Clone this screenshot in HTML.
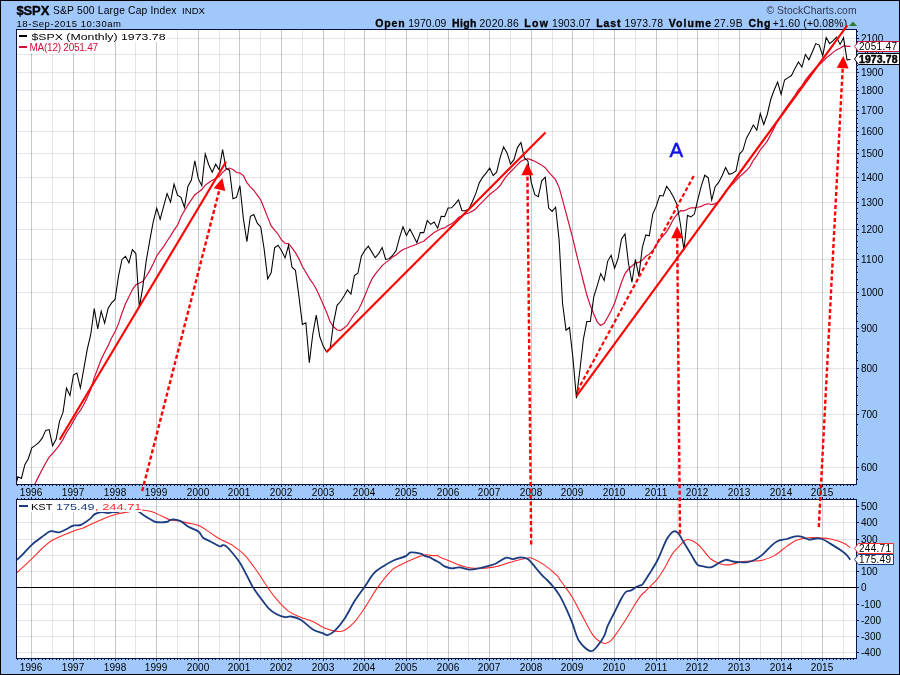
<!DOCTYPE html>
<html><head><meta charset="utf-8"><style>
html,body{margin:0;padding:0;background:#000;}
body{width:900px;height:675px;overflow:hidden;}
svg{display:block;font-family:"Liberation Sans",sans-serif;will-change:transform;}
</style></head><body>
<svg width="900" height="675" viewBox="0 0 900 675">
<rect x="0" y="0" width="900" height="675" fill="#000"/>
<rect x="1" y="1" width="898" height="673" fill="#A0C8FA"/>
<rect x="16" y="29" width="841" height="456" fill="#0A1440"/>
<rect x="17" y="30" width="839" height="454" fill="#fff"/>
<rect x="16" y="499" width="841" height="160" fill="#0A1440"/>
<rect x="17" y="500" width="839" height="158" fill="#fff"/>
<path d="M31.5 30V484M73.5 30V484M115.5 30V484M156.5 30V484M198.5 30V484M239.5 30V484M281.5 30V484M323.5 30V484M364.5 30V484M406.5 30V484M448.5 30V484M489.5 30V484M531.5 30V484M572.5 30V484M614.5 30V484M656.5 30V484M697.5 30V484M739.5 30V484M781.5 30V484M822.5 30V484" stroke="rgba(0,0,0,0.21)" stroke-width="1" fill="none"/>
<path d="M52.5 30V484M94.5 30V484M135.5 30V484M177.5 30V484M219.5 30V484M260.5 30V484M302.5 30V484M344.5 30V484M385.5 30V484M427.5 30V484M468.5 30V484M510.5 30V484M552.5 30V484M593.5 30V484M635.5 30V484M677.5 30V484M718.5 30V484M760.5 30V484M801.5 30V484M843.5 30V484" stroke="rgba(0,0,0,0.1)" stroke-width="1" fill="none"/>
<path d="M31.5 500V658M73.5 500V658M115.5 500V658M156.5 500V658M198.5 500V658M239.5 500V658M281.5 500V658M323.5 500V658M364.5 500V658M406.5 500V658M448.5 500V658M489.5 500V658M531.5 500V658M572.5 500V658M614.5 500V658M656.5 500V658M697.5 500V658M739.5 500V658M781.5 500V658M822.5 500V658" stroke="rgba(0,0,0,0.21)" stroke-width="1" fill="none"/>
<path d="M52.5 500V658M94.5 500V658M135.5 500V658M177.5 500V658M219.5 500V658M260.5 500V658M302.5 500V658M344.5 500V658M385.5 500V658M427.5 500V658M468.5 500V658M510.5 500V658M552.5 500V658M593.5 500V658M635.5 500V658M677.5 500V658M718.5 500V658M760.5 500V658M801.5 500V658M843.5 500V658" stroke="rgba(0,0,0,0.1)" stroke-width="1" fill="none"/>
<path d="M17 38.5H856M17 54.5H856M17 72.5H856M17 90.5H856M17 110.5H856M17 131.5H856M17 153.5H856M17 177.5H856M17 202.5H856M17 229.5H856M17 259.5H856M17 292.5H856M17 328.5H856M17 368.5H856M17 414.5H856M17 467.5H856" stroke="rgba(0,0,0,0.1)" stroke-width="1" fill="none"/>
<path d="M17 506.5H856M17 522.5H856M17 539.5H856M17 555.5H856M17 571.5H856M17 604.5H856M17 620.5H856M17 636.5H856M17 652.5H856" stroke="rgba(0,0,0,0.1)" stroke-width="1" fill="none"/>
<defs>
<clipPath id="cp"><rect x="17" y="30" width="839" height="454"/></clipPath>
<clipPath id="ck"><rect x="17" y="500" width="839" height="158"/></clipPath>
</defs>
<g clip-path="url(#cp)">
<path d="M14.46 528.92 L17.92 522.06 L21.39 516.02 L24.86 507.81 L28.33 499.53 L31.80 490.98 L35.27 483.27 L38.74 476.14 L42.21 469.40 L45.68 462.97 L49.14 457.11 L52.61 453.53 L56.08 449.44 L59.55 444.82 L63.02 439.36 L66.49 432.77 L69.96 427.45 L73.43 421.15 L76.90 414.96 L80.37 410.43 L83.83 404.55 L87.30 397.53 L90.77 389.31 L94.24 377.61 L97.71 368.67 L101.18 359.52 L104.65 352.33 L108.12 345.65 L111.59 338.07 L115.06 331.80 L118.52 323.62 L121.99 313.01 L125.46 303.72 L128.93 296.64 L132.40 289.53 L135.87 284.85 L139.34 283.24 L142.81 281.31 L146.28 276.26 L149.75 270.63 L153.22 263.77 L156.68 256.00 L160.15 251.18 L163.62 246.54 L167.09 241.00 L170.56 235.86 L174.03 230.12 L177.50 225.21 L180.97 216.79 L184.44 210.76 L187.91 204.86 L191.37 199.92 L194.84 194.73 L198.31 192.27 L201.78 189.55 L205.25 185.09 L208.72 182.65 L212.19 180.20 L215.66 178.52 L219.13 176.43 L222.59 172.44 L226.06 169.36 L229.53 168.04 L233.00 169.51 L236.47 172.50 L239.94 173.07 L243.41 175.63 L246.88 182.57 L250.35 186.80 L253.82 190.27 L257.28 195.19 L260.75 199.94 L264.22 208.42 L267.69 217.37 L271.16 225.95 L274.63 230.11 L278.10 234.23 L281.57 239.96 L285.04 243.24 L288.51 243.56 L291.98 247.86 L295.44 252.62 L298.91 258.64 L302.38 266.47 L305.85 272.28 L309.32 278.41 L312.79 283.21 L316.26 288.91 L319.73 296.57 L323.20 304.60 L326.67 312.54 L330.13 321.72 L333.60 326.74 L337.07 330.02 L340.54 330.51 L344.01 328.01 L347.48 325.11 L350.95 319.48 L354.42 314.42 L357.89 310.73 L361.36 303.81 L364.82 295.78 L368.29 287.13 L371.76 279.40 L375.23 274.21 L378.70 269.98 L382.17 265.56 L385.64 262.63 L389.11 260.12 L392.58 257.06 L396.05 255.01 L399.51 252.07 L402.98 249.54 L406.45 248.28 L409.92 246.81 L413.39 245.45 L416.86 244.22 L420.33 242.47 L423.80 241.23 L427.27 237.98 L430.74 235.17 L434.20 232.42 L437.67 230.58 L441.14 228.79 L444.61 227.92 L448.08 225.59 L451.55 223.79 L455.02 221.13 L458.49 217.58 L461.96 215.78 L465.43 213.99 L468.89 213.02 L472.36 211.14 L475.83 208.74 L479.30 204.94 L482.77 201.61 L486.24 197.90 L489.71 194.49 L493.18 191.80 L496.65 189.13 L500.12 185.52 L503.58 180.11 L507.05 175.35 L510.52 171.75 L513.99 168.35 L517.46 164.57 L520.93 161.22 L524.40 159.65 L527.87 158.69 L531.34 159.84 L534.80 161.32 L538.27 163.24 L541.74 165.14 L545.21 167.71 L548.68 172.17 L552.15 175.97 L555.62 179.88 L559.09 187.37 L562.56 199.79 L566.03 212.78 L569.49 225.82 L572.96 239.06 L576.43 253.93 L579.90 267.59 L583.37 281.48 L586.84 295.06 L590.31 305.59 L593.78 314.00 L597.25 322.06 L600.72 325.48 L604.18 323.37 L607.65 317.20 L611.12 310.75 L614.59 303.37 L618.06 292.65 L621.53 282.19 L625.00 273.60 L628.47 269.03 L631.94 266.08 L635.41 263.07 L638.87 262.32 L642.34 260.13 L645.81 256.33 L649.28 254.15 L652.75 250.53 L656.22 245.21 L659.69 239.72 L663.16 235.91 L666.63 231.65 L670.10 225.59 L673.56 218.85 L677.03 214.48 L680.50 210.65 L683.97 210.87 L687.44 209.29 L690.91 207.81 L694.38 207.81 L697.85 207.22 L701.32 206.37 L704.79 204.54 L708.25 203.78 L711.72 204.55 L715.19 203.63 L718.66 201.72 L722.13 197.63 L725.60 191.00 L729.07 187.65 L732.54 184.11 L736.01 180.61 L739.48 176.81 L742.94 173.79 L746.41 170.56 L749.88 166.58 L753.35 160.30 L756.82 155.60 L760.29 149.78 L763.76 145.54 L767.23 141.09 L770.70 134.82 L774.17 127.87 L777.63 120.49 L781.10 115.61 L784.57 109.78 L788.04 104.74 L791.51 100.04 L794.98 95.31 L798.45 89.67 L801.92 85.82 L805.39 80.08 L808.86 75.64 L812.32 71.70 L815.79 67.79 L819.26 64.69 L822.73 61.58 L826.20 58.03 L829.67 55.23 L833.14 52.36 L836.61 49.76 L840.08 48.32 L843.55 45.90 L847.01 46.33 L850.48 46.31" stroke="#D0103A" stroke-width="1.2" fill="none"/>
<path d="M14.46 490.25 L17.92 476.77 L21.39 478.48 L24.86 464.69 L28.33 458.76 L31.80 447.76 L35.27 445.39 L38.74 442.69 L42.21 438.12 L45.68 430.37 L49.14 429.60 L52.61 445.65 L56.08 439.26 L59.55 421.18 L63.02 412.33 L66.49 388.06 L69.96 395.51 L73.43 375.11 L76.90 373.09 L80.37 388.01 L83.83 368.56 L87.30 349.04 L90.77 334.46 L94.24 308.67 L97.71 328.96 L101.18 311.20 L104.65 323.23 L108.12 308.28 L111.59 302.93 L115.06 299.46 L118.52 276.13 L121.99 259.42 L125.46 256.32 L128.93 262.84 L132.40 249.58 L135.87 253.58 L139.34 307.60 L142.81 286.85 L146.28 260.38 L149.75 240.69 L153.22 221.89 L156.68 208.11 L160.15 219.36 L163.62 206.31 L167.09 193.54 L170.56 202.21 L174.03 184.04 L177.50 195.21 L180.97 197.36 L184.44 207.29 L187.91 186.49 L191.37 180.02 L194.84 160.74 L198.31 178.65 L201.78 185.62 L205.25 153.97 L208.72 164.69 L212.19 172.29 L215.66 164.18 L219.13 169.83 L222.59 149.63 L226.06 168.47 L229.53 170.17 L233.00 198.78 L236.47 197.39 L239.94 185.72 L243.41 218.91 L246.88 241.66 L250.35 216.29 L253.82 214.55 L257.28 223.23 L260.75 226.94 L264.22 249.66 L267.69 278.88 L271.16 272.73 L274.63 247.89 L278.10 245.30 L281.57 250.68 L285.04 257.87 L288.51 245.50 L291.98 267.23 L295.44 270.36 L298.91 296.14 L302.38 324.36 L305.85 322.69 L309.32 362.64 L312.79 334.22 L316.26 315.20 L319.73 336.53 L323.20 346.06 L326.67 351.94 L330.13 349.08 L333.60 322.37 L337.07 305.35 L340.54 301.49 L344.01 295.97 L347.48 289.90 L350.95 294.02 L354.42 275.68 L357.89 273.24 L361.36 256.27 L364.82 250.40 L368.29 246.24 L371.76 251.89 L375.23 257.70 L378.70 253.58 L382.17 247.47 L385.64 259.43 L389.11 258.64 L392.58 255.45 L396.05 250.68 L399.51 237.70 L402.98 226.75 L406.45 235.53 L409.92 229.11 L413.39 235.73 L416.86 242.69 L420.33 232.57 L423.80 232.62 L427.27 220.51 L430.74 224.38 L434.20 222.00 L437.67 228.14 L441.14 216.29 L444.61 216.61 L448.08 207.99 L451.55 207.84 L455.02 204.06 L458.49 199.91 L461.96 210.68 L465.43 210.65 L468.89 208.91 L472.36 201.69 L475.83 193.37 L479.30 182.74 L482.77 177.14 L486.24 172.84 L489.71 168.06 L493.18 175.63 L496.65 172.22 L500.12 157.70 L503.58 146.72 L507.05 152.88 L510.52 164.02 L513.99 159.64 L517.46 147.58 L520.93 142.54 L524.40 157.98 L527.87 160.95 L531.34 182.59 L534.80 194.71 L538.27 196.76 L541.74 180.84 L545.21 177.20 L548.68 208.01 L552.15 211.41 L555.62 207.26 L559.09 239.88 L562.56 303.52 L566.03 330.19 L569.49 327.52 L572.96 358.22 L576.43 398.14 L579.90 370.04 L583.37 339.27 L586.84 321.54 L590.31 321.47 L593.78 296.96 L597.25 285.64 L600.72 273.61 L604.18 280.45 L607.65 261.33 L611.12 255.29 L614.59 268.21 L618.06 258.57 L621.53 238.98 L625.00 233.96 L628.47 263.28 L631.94 282.27 L635.41 259.47 L638.87 276.13 L642.34 247.36 L645.81 234.95 L649.28 235.74 L652.75 214.05 L656.22 206.38 L659.69 195.59 L663.16 195.95 L666.63 186.32 L670.10 190.98 L673.56 197.30 L677.03 204.74 L680.50 224.78 L683.97 250.31 L687.44 215.24 L690.91 216.98 L694.38 214.06 L697.85 199.44 L701.32 185.80 L704.79 175.23 L708.25 177.81 L711.72 199.98 L715.19 186.69 L718.66 182.39 L722.13 175.69 L725.60 167.48 L729.07 174.33 L732.54 173.35 L736.01 170.94 L739.48 154.07 L742.94 150.30 L746.41 138.18 L749.88 132.04 L753.35 125.00 L756.82 130.18 L760.29 113.63 L763.76 124.53 L767.23 114.48 L770.70 99.52 L774.17 90.04 L777.63 82.05 L781.10 94.47 L784.57 80.00 L788.04 77.64 L791.51 75.52 L794.98 68.38 L798.45 61.91 L801.92 67.12 L805.39 54.45 L808.86 59.81 L812.32 51.95 L815.79 43.64 L819.26 45.08 L822.73 55.89 L826.20 37.57 L829.67 43.58 L833.14 40.67 L836.61 37.10 L840.08 44.38 L843.55 37.67 L847.01 59.83 L850.48 59.55" stroke="#000" stroke-width="1.05" fill="none" stroke-miterlimit="5"/>
</g>
<g clip-path="url(#ck)">
<path d="M17 587.5H856" stroke="#000" stroke-width="1"/>
<path d="M16.84 572.73 C19.29 570.45 27.36 563.04 31.51 559.04 C35.67 555.05 38.31 551.91 41.78 548.78 C45.24 545.64 47.07 543.16 52.29 540.22 C57.50 537.29 67.89 533.21 73.07 531.18 C78.24 529.14 80.51 529.08 83.33 528.00 C86.16 526.92 87.41 525.92 90.00 524.70 C92.59 523.48 95.93 521.97 98.90 520.70 C101.87 519.43 104.83 518.22 107.80 517.10 C110.77 515.98 113.30 514.85 116.70 514.00 C120.10 513.15 125.15 512.58 128.20 512.00 C131.25 511.42 132.63 510.83 135.00 510.50 C137.37 510.17 139.53 509.78 142.40 510.00 C145.27 510.22 149.08 510.83 152.20 511.80 C155.32 512.77 158.13 514.47 161.10 515.80 C164.07 517.13 167.24 518.99 170.00 519.80 C172.76 520.61 174.62 520.11 177.69 520.67 C180.76 521.22 184.94 522.30 188.44 523.11 C191.95 523.93 195.04 523.93 198.71 525.56 C202.38 527.19 206.92 530.65 210.44 532.89 C213.97 535.13 216.61 537.17 219.87 539.00 C223.13 540.83 227.94 542.87 230.00 543.89 C232.06 544.91 229.81 543.28 232.22 545.11 C234.63 546.94 240.37 550.61 244.44 554.89 C248.52 559.17 252.80 565.36 256.67 570.78 C260.54 576.20 264.41 582.72 267.67 587.40 C270.93 592.09 272.76 594.94 276.22 598.89 C279.69 602.84 284.37 608.06 288.44 611.11 C292.52 614.17 296.59 615.47 300.67 617.22 C304.74 618.97 308.82 619.79 312.89 621.62 C316.96 623.46 321.04 626.59 325.11 628.22 C329.19 629.85 334.07 631.07 337.33 631.40 C340.59 631.73 341.82 631.73 344.67 630.18 C347.52 628.63 351.19 625.70 354.44 622.11 C357.70 618.53 360.35 614.45 364.22 608.67 C368.09 602.88 373.19 593.72 377.67 587.40 C382.15 581.09 387.24 574.57 391.11 570.78 C394.98 566.99 396.82 566.79 400.89 564.67 C404.96 562.55 411.48 559.70 415.56 558.07 C419.63 556.44 422.93 555.34 425.33 554.89 C427.74 554.44 428.37 555.26 430.00 555.38 C431.63 555.50 433.89 555.62 435.11 555.62 C436.33 555.62 436.52 555.09 437.33 555.38 C438.15 555.66 437.96 556.40 440.00 557.33 C442.04 558.27 445.93 559.57 449.56 561.00 C453.19 562.43 457.70 564.67 461.78 565.89 C465.85 567.11 468.70 568.13 474.00 568.33 C479.30 568.54 487.44 568.13 493.56 567.11 C499.67 566.09 504.96 563.73 510.67 562.22 C516.37 560.71 524.11 558.68 527.78 558.07 C531.44 557.46 529.82 557.33 532.67 558.56 C535.52 559.78 540.82 562.55 544.89 565.40 C548.96 568.25 554.57 573.23 557.11 575.67 C559.65 578.10 558.75 578.05 560.15 580.00 C561.54 581.95 563.41 584.39 565.48 587.35 C567.56 590.31 569.93 593.27 572.59 597.78 C575.26 602.28 578.02 608.05 581.48 614.37 C584.94 620.69 589.58 630.86 593.33 635.70 C597.09 640.54 601.04 642.62 604.00 643.41 C606.96 644.20 608.74 642.52 611.11 640.44 C613.48 638.37 615.85 634.32 618.22 630.96 C620.59 627.60 622.96 624.05 625.33 620.30 C627.70 616.54 630.00 612.40 632.44 608.44 C634.89 604.49 637.92 599.41 640.03 596.59 C642.14 593.78 643.47 593.21 645.11 591.56 C646.75 589.90 647.89 588.70 649.89 586.67 C651.89 584.63 654.69 582.39 657.11 579.33 C659.54 576.28 662.00 572.41 664.44 568.33 C666.89 564.26 669.33 558.56 671.78 554.89 C674.22 551.22 676.67 548.86 679.11 546.33 C681.56 543.81 684.00 540.55 686.44 539.73 C688.89 538.92 691.33 540.14 693.78 541.44 C696.22 542.75 698.26 544.62 701.11 547.56 C703.96 550.49 707.63 556.31 710.89 559.04 C714.15 561.77 717.41 563.00 720.67 563.93 C723.93 564.87 726.78 565.07 730.44 564.67 C734.11 564.26 738.59 562.10 742.67 561.49 C746.74 560.88 751.63 561.20 754.89 561.00 C758.15 560.80 758.96 561.16 762.22 560.27 C765.48 559.37 770.37 557.94 774.44 555.62 C778.52 553.30 783.00 548.90 786.67 546.33 C790.33 543.77 792.78 541.65 796.44 540.22 C800.11 538.80 804.59 538.14 808.67 537.78 C812.74 537.41 817.22 537.82 820.89 538.02 C824.56 538.23 827.00 538.23 830.67 539.00 C834.33 539.77 839.63 541.24 842.89 542.67 C846.15 544.09 849.00 546.74 850.22 547.56" stroke="#FF2A2A" stroke-width="1.1" fill="none"/>
<path d="M16.84 559.78 C17.74 558.96 19.78 557.33 22.22 554.89 C24.67 552.44 28.25 548.09 31.51 545.11 C34.77 542.14 38.84 539.29 41.78 537.04 C44.71 534.80 47.36 532.64 49.11 531.67 C50.86 530.69 50.66 531.06 52.29 531.18 C53.92 531.30 56.57 532.73 58.89 532.40 C61.21 532.07 63.86 530.36 66.22 529.22 C68.59 528.08 70.62 526.29 73.07 525.56 C75.51 524.82 78.07 525.93 80.89 524.82 C83.71 523.71 87.75 520.64 90.00 518.90 C92.25 517.16 92.47 515.52 94.40 514.40 C96.33 513.28 99.37 512.42 101.60 512.20 C103.83 511.98 106.03 513.10 107.80 513.10 C109.57 513.10 110.43 512.42 112.20 512.20 C113.97 511.98 116.10 512.42 118.40 511.80 C120.70 511.18 123.57 509.05 126.00 508.50 C128.43 507.95 130.78 507.92 133.00 508.50 C135.22 509.08 137.58 510.93 139.30 512.00 C141.02 513.07 141.45 513.68 143.30 514.90 C145.15 516.12 148.32 518.12 150.40 519.30 C152.48 520.48 153.13 521.55 155.80 522.00 C158.47 522.45 164.03 522.30 166.40 522.00 C168.77 521.70 168.77 520.63 170.00 520.20 C171.23 519.77 171.93 519.24 173.78 519.44 C175.63 519.64 178.67 520.18 181.11 521.40 C183.56 522.62 185.51 525.07 188.44 526.78 C191.38 528.49 196.27 529.83 198.71 531.67 C201.16 533.50 201.16 536.15 203.11 537.78 C205.07 539.41 207.65 540.02 210.44 541.44 C213.24 542.87 217.87 545.72 219.87 546.33 C221.87 546.94 221.57 545.23 222.44 545.11 C223.32 544.99 223.87 544.79 225.11 545.60 C226.35 546.41 227.48 547.23 229.89 550.00 C232.30 552.77 236.72 557.94 239.56 562.22 C242.39 566.50 244.65 571.47 246.89 575.67 C249.13 579.86 250.76 583.73 253.00 587.40 C255.24 591.07 257.69 594.12 260.33 597.67 C262.98 601.21 266.24 605.94 268.89 608.67 C271.54 611.40 273.57 612.62 276.22 614.04 C278.87 615.47 282.33 616.82 284.78 617.22 C287.22 617.63 288.24 616.08 290.89 616.49 C293.54 616.90 297.00 617.51 300.67 619.67 C304.33 621.83 309.22 627.20 312.89 629.44 C316.56 631.69 320.22 632.17 322.67 633.11 C325.11 634.05 325.52 635.47 327.56 635.07 C329.59 634.66 332.04 633.44 334.89 630.67 C337.74 627.90 341.41 623.33 344.67 618.44 C347.93 613.56 351.10 606.63 354.44 601.33 C357.79 596.04 361.45 591.35 364.71 586.67 C367.97 581.98 370.82 576.69 374.00 573.22 C377.18 569.76 380.52 568.01 383.78 565.89 C387.04 563.77 389.89 562.14 393.56 560.51 C397.22 558.88 402.93 557.46 405.78 556.11 C408.63 554.77 408.22 552.85 410.67 552.44 C413.11 552.04 418.00 553.06 420.44 553.67 C422.89 554.28 423.74 555.50 425.33 556.11 C426.93 556.72 428.78 556.84 430.00 557.33 C431.22 557.82 431.44 558.35 432.67 559.04 C433.89 559.74 436.11 560.84 437.33 561.49 C438.56 562.14 438.78 562.14 440.00 562.96 C441.22 563.77 442.67 565.48 444.67 566.38 C446.67 567.27 449.56 568.17 452.00 568.33 C454.44 568.50 456.48 567.15 459.33 567.36 C462.19 567.56 465.85 569.39 469.11 569.56 C472.37 569.72 475.63 568.94 478.89 568.33 C482.15 567.72 485.81 566.70 488.67 565.89 C491.52 565.07 493.15 564.79 496.00 563.44 C498.85 562.10 502.93 558.56 505.78 557.82 C508.63 557.09 510.67 559.13 513.11 559.04 C515.56 558.96 518.00 557.33 520.44 557.33 C522.89 557.33 525.33 557.41 527.78 559.04 C530.22 560.67 532.67 564.34 535.11 567.11 C537.56 569.88 540.44 573.52 542.44 575.67 C544.44 577.81 545.35 578.19 547.11 580.00 C548.88 581.81 550.96 583.95 553.04 586.52 C555.11 589.09 557.28 591.56 559.56 595.41 C561.83 599.26 564.49 604.89 566.67 609.63 C568.84 614.37 570.52 618.62 572.59 623.85 C574.67 629.09 576.15 636.49 579.11 641.04 C582.07 645.58 587.21 650.42 590.37 651.11 C593.53 651.80 595.70 647.85 598.07 645.19 C600.44 642.52 603.01 638.27 604.59 635.11 C606.17 631.95 605.88 630.07 607.56 626.22 C609.23 622.37 612.30 616.74 614.67 612.00 C617.04 607.26 619.90 601.14 621.78 597.78 C623.65 594.42 624.35 593.08 625.93 591.85 C627.51 590.63 629.58 591.22 631.26 590.43 C632.94 589.64 634.54 587.96 636.00 587.11 C637.46 586.26 638.92 585.81 640.03 585.33 C641.14 584.85 641.02 586.28 642.67 584.22 C644.31 582.16 647.48 576.85 649.89 572.98 C652.30 569.11 655.09 564.83 657.11 561.00 C659.13 557.17 660.37 553.67 662.00 550.00 C663.63 546.33 665.06 542.06 666.89 539.00 C668.72 535.94 671.17 532.69 673.00 531.67 C674.83 530.65 676.06 531.06 677.89 532.89 C679.72 534.72 681.76 539.00 684.00 542.67 C686.24 546.33 689.09 551.22 691.33 554.89 C693.57 558.56 695.41 562.75 697.44 564.67 C699.48 566.58 701.31 565.93 703.56 566.38 C705.80 566.83 708.44 567.84 710.89 567.36 C713.33 566.87 715.78 564.71 718.22 563.44 C720.67 562.18 723.11 560.10 725.56 559.78 C728.00 559.45 730.44 561.08 732.89 561.49 C735.33 561.90 737.78 562.10 740.22 562.22 C742.67 562.34 745.11 562.63 747.56 562.22 C750.00 561.81 752.44 561.00 754.89 559.78 C757.33 558.56 759.78 556.93 762.22 554.89 C764.67 552.85 767.11 549.80 769.56 547.56 C772.00 545.31 774.04 542.87 776.89 541.44 C779.74 540.02 783.82 539.81 786.67 539.00 C789.52 538.19 791.56 536.96 794.00 536.56 C796.44 536.15 798.89 536.07 801.33 536.56 C803.78 537.04 806.22 539.16 808.67 539.49 C811.11 539.81 813.76 538.59 816.00 538.51 C818.24 538.43 819.67 538.10 822.11 539.00 C824.56 539.90 827.61 542.06 830.67 543.89 C833.72 545.72 837.80 548.17 840.44 550.00 C843.09 551.83 844.93 553.26 846.56 554.89 C848.19 556.52 849.61 558.96 850.22 559.78" stroke="#1B3C80" stroke-width="1.8" fill="none" stroke-linejoin="round"/>
</g>
<path d="M17.5 485v1M17.5 499v-1M21.5 485v1M21.5 499v-1M24.5 485v1M24.5 499v-1M28.5 485v1M28.5 499v-1M31.5 485v2M31.5 499v-2M35.5 485v1M35.5 499v-1M38.5 485v1M38.5 499v-1M42.5 485v1M42.5 499v-1M45.5 485v1M45.5 499v-1M49.5 485v1M49.5 499v-1M52.5 485v1M52.5 499v-1M56.5 485v1M56.5 499v-1M59.5 485v1M59.5 499v-1M63.5 485v1M63.5 499v-1M66.5 485v1M66.5 499v-1M69.5 485v1M69.5 499v-1M73.5 485v2M73.5 499v-2M76.5 485v1M76.5 499v-1M80.5 485v1M80.5 499v-1M83.5 485v1M83.5 499v-1M87.5 485v1M87.5 499v-1M90.5 485v1M90.5 499v-1M94.5 485v1M94.5 499v-1M97.5 485v1M97.5 499v-1M101.5 485v1M101.5 499v-1M104.5 485v1M104.5 499v-1M108.5 485v1M108.5 499v-1M111.5 485v1M111.5 499v-1M115.5 485v2M115.5 499v-2M118.5 485v1M118.5 499v-1M121.5 485v1M121.5 499v-1M125.5 485v1M125.5 499v-1M128.5 485v1M128.5 499v-1M132.5 485v1M132.5 499v-1M135.5 485v1M135.5 499v-1M139.5 485v1M139.5 499v-1M142.5 485v1M142.5 499v-1M146.5 485v1M146.5 499v-1M149.5 485v1M149.5 499v-1M153.5 485v1M153.5 499v-1M156.5 485v2M156.5 499v-2M160.5 485v1M160.5 499v-1M163.5 485v1M163.5 499v-1M167.5 485v1M167.5 499v-1M170.5 485v1M170.5 499v-1M174.5 485v1M174.5 499v-1M177.5 485v1M177.5 499v-1M180.5 485v1M180.5 499v-1M184.5 485v1M184.5 499v-1M187.5 485v1M187.5 499v-1M191.5 485v1M191.5 499v-1M194.5 485v1M194.5 499v-1M198.5 485v2M198.5 499v-2M201.5 485v1M201.5 499v-1M205.5 485v1M205.5 499v-1M208.5 485v1M208.5 499v-1M212.5 485v1M212.5 499v-1M215.5 485v1M215.5 499v-1M219.5 485v1M219.5 499v-1M222.5 485v1M222.5 499v-1M226.5 485v1M226.5 499v-1M229.5 485v1M229.5 499v-1M233.5 485v1M233.5 499v-1M236.5 485v1M236.5 499v-1M239.5 485v2M239.5 499v-2M243.5 485v1M243.5 499v-1M246.5 485v1M246.5 499v-1M250.5 485v1M250.5 499v-1M253.5 485v1M253.5 499v-1M257.5 485v1M257.5 499v-1M260.5 485v1M260.5 499v-1M264.5 485v1M264.5 499v-1M267.5 485v1M267.5 499v-1M271.5 485v1M271.5 499v-1M274.5 485v1M274.5 499v-1M278.5 485v1M278.5 499v-1M281.5 485v2M281.5 499v-2M285.5 485v1M285.5 499v-1M288.5 485v1M288.5 499v-1M291.5 485v1M291.5 499v-1M295.5 485v1M295.5 499v-1M298.5 485v1M298.5 499v-1M302.5 485v1M302.5 499v-1M305.5 485v1M305.5 499v-1M309.5 485v1M309.5 499v-1M312.5 485v1M312.5 499v-1M316.5 485v1M316.5 499v-1M319.5 485v1M319.5 499v-1M323.5 485v2M323.5 499v-2M326.5 485v1M326.5 499v-1M330.5 485v1M330.5 499v-1M333.5 485v1M333.5 499v-1M337.5 485v1M337.5 499v-1M340.5 485v1M340.5 499v-1M344.5 485v1M344.5 499v-1M347.5 485v1M347.5 499v-1M350.5 485v1M350.5 499v-1M354.5 485v1M354.5 499v-1M357.5 485v1M357.5 499v-1M361.5 485v1M361.5 499v-1M364.5 485v2M364.5 499v-2M368.5 485v1M368.5 499v-1M371.5 485v1M371.5 499v-1M375.5 485v1M375.5 499v-1M378.5 485v1M378.5 499v-1M382.5 485v1M382.5 499v-1M385.5 485v1M385.5 499v-1M389.5 485v1M389.5 499v-1M392.5 485v1M392.5 499v-1M396.5 485v1M396.5 499v-1M399.5 485v1M399.5 499v-1M402.5 485v1M402.5 499v-1M406.5 485v2M406.5 499v-2M409.5 485v1M409.5 499v-1M413.5 485v1M413.5 499v-1M416.5 485v1M416.5 499v-1M420.5 485v1M420.5 499v-1M423.5 485v1M423.5 499v-1M427.5 485v1M427.5 499v-1M430.5 485v1M430.5 499v-1M434.5 485v1M434.5 499v-1M437.5 485v1M437.5 499v-1M441.5 485v1M441.5 499v-1M444.5 485v1M444.5 499v-1M448.5 485v2M448.5 499v-2M451.5 485v1M451.5 499v-1M455.5 485v1M455.5 499v-1M458.5 485v1M458.5 499v-1M461.5 485v1M461.5 499v-1M465.5 485v1M465.5 499v-1M468.5 485v1M468.5 499v-1M472.5 485v1M472.5 499v-1M475.5 485v1M475.5 499v-1M479.5 485v1M479.5 499v-1M482.5 485v1M482.5 499v-1M486.5 485v1M486.5 499v-1M489.5 485v2M489.5 499v-2M493.5 485v1M493.5 499v-1M496.5 485v1M496.5 499v-1M500.5 485v1M500.5 499v-1M503.5 485v1M503.5 499v-1M507.5 485v1M507.5 499v-1M510.5 485v1M510.5 499v-1M513.5 485v1M513.5 499v-1M517.5 485v1M517.5 499v-1M520.5 485v1M520.5 499v-1M524.5 485v1M524.5 499v-1M527.5 485v1M527.5 499v-1M531.5 485v2M531.5 499v-2M534.5 485v1M534.5 499v-1M538.5 485v1M538.5 499v-1M541.5 485v1M541.5 499v-1M545.5 485v1M545.5 499v-1M548.5 485v1M548.5 499v-1M552.5 485v1M552.5 499v-1M555.5 485v1M555.5 499v-1M559.5 485v1M559.5 499v-1M562.5 485v1M562.5 499v-1M566.5 485v1M566.5 499v-1M569.5 485v1M569.5 499v-1M572.5 485v2M572.5 499v-2M576.5 485v1M576.5 499v-1M579.5 485v1M579.5 499v-1M583.5 485v1M583.5 499v-1M586.5 485v1M586.5 499v-1M590.5 485v1M590.5 499v-1M593.5 485v1M593.5 499v-1M597.5 485v1M597.5 499v-1M600.5 485v1M600.5 499v-1M604.5 485v1M604.5 499v-1M607.5 485v1M607.5 499v-1M611.5 485v1M611.5 499v-1M614.5 485v2M614.5 499v-2M618.5 485v1M618.5 499v-1M621.5 485v1M621.5 499v-1M624.5 485v1M624.5 499v-1M628.5 485v1M628.5 499v-1M631.5 485v1M631.5 499v-1M635.5 485v1M635.5 499v-1M638.5 485v1M638.5 499v-1M642.5 485v1M642.5 499v-1M645.5 485v1M645.5 499v-1M649.5 485v1M649.5 499v-1M652.5 485v1M652.5 499v-1M656.5 485v2M656.5 499v-2M659.5 485v1M659.5 499v-1M663.5 485v1M663.5 499v-1M666.5 485v1M666.5 499v-1M670.5 485v1M670.5 499v-1M673.5 485v1M673.5 499v-1M677.5 485v1M677.5 499v-1M680.5 485v1M680.5 499v-1M683.5 485v1M683.5 499v-1M687.5 485v1M687.5 499v-1M690.5 485v1M690.5 499v-1M694.5 485v1M694.5 499v-1M697.5 485v2M697.5 499v-2M701.5 485v1M701.5 499v-1M704.5 485v1M704.5 499v-1M708.5 485v1M708.5 499v-1M711.5 485v1M711.5 499v-1M715.5 485v1M715.5 499v-1M718.5 485v1M718.5 499v-1M722.5 485v1M722.5 499v-1M725.5 485v1M725.5 499v-1M729.5 485v1M729.5 499v-1M732.5 485v1M732.5 499v-1M736.5 485v1M736.5 499v-1M739.5 485v2M739.5 499v-2M742.5 485v1M742.5 499v-1M746.5 485v1M746.5 499v-1M749.5 485v1M749.5 499v-1M753.5 485v1M753.5 499v-1M756.5 485v1M756.5 499v-1M760.5 485v1M760.5 499v-1M763.5 485v1M763.5 499v-1M767.5 485v1M767.5 499v-1M770.5 485v1M770.5 499v-1M774.5 485v1M774.5 499v-1M777.5 485v1M777.5 499v-1M781.5 485v2M781.5 499v-2M784.5 485v1M784.5 499v-1M788.5 485v1M788.5 499v-1M791.5 485v1M791.5 499v-1M794.5 485v1M794.5 499v-1M798.5 485v1M798.5 499v-1M801.5 485v1M801.5 499v-1M805.5 485v1M805.5 499v-1M808.5 485v1M808.5 499v-1M812.5 485v1M812.5 499v-1M815.5 485v1M815.5 499v-1M819.5 485v1M819.5 499v-1M822.5 485v2M822.5 499v-2M826.5 485v1M826.5 499v-1M829.5 485v1M829.5 499v-1M833.5 485v1M833.5 499v-1M836.5 485v1M836.5 499v-1M840.5 485v1M840.5 499v-1M843.5 485v1M843.5 499v-1M847.5 485v1M847.5 499v-1M850.5 485v1M850.5 499v-1M853.5 485v1M853.5 499v-1" stroke="#0A1440" stroke-width="1"/>
<path d="M17.5 659v1M21.5 659v1M24.5 659v1M28.5 659v1M31.5 659v2M35.5 659v1M38.5 659v1M42.5 659v1M45.5 659v1M49.5 659v1M52.5 659v1M56.5 659v1M59.5 659v1M63.5 659v1M66.5 659v1M69.5 659v1M73.5 659v2M76.5 659v1M80.5 659v1M83.5 659v1M87.5 659v1M90.5 659v1M94.5 659v1M97.5 659v1M101.5 659v1M104.5 659v1M108.5 659v1M111.5 659v1M115.5 659v2M118.5 659v1M121.5 659v1M125.5 659v1M128.5 659v1M132.5 659v1M135.5 659v1M139.5 659v1M142.5 659v1M146.5 659v1M149.5 659v1M153.5 659v1M156.5 659v2M160.5 659v1M163.5 659v1M167.5 659v1M170.5 659v1M174.5 659v1M177.5 659v1M180.5 659v1M184.5 659v1M187.5 659v1M191.5 659v1M194.5 659v1M198.5 659v2M201.5 659v1M205.5 659v1M208.5 659v1M212.5 659v1M215.5 659v1M219.5 659v1M222.5 659v1M226.5 659v1M229.5 659v1M233.5 659v1M236.5 659v1M239.5 659v2M243.5 659v1M246.5 659v1M250.5 659v1M253.5 659v1M257.5 659v1M260.5 659v1M264.5 659v1M267.5 659v1M271.5 659v1M274.5 659v1M278.5 659v1M281.5 659v2M285.5 659v1M288.5 659v1M291.5 659v1M295.5 659v1M298.5 659v1M302.5 659v1M305.5 659v1M309.5 659v1M312.5 659v1M316.5 659v1M319.5 659v1M323.5 659v2M326.5 659v1M330.5 659v1M333.5 659v1M337.5 659v1M340.5 659v1M344.5 659v1M347.5 659v1M350.5 659v1M354.5 659v1M357.5 659v1M361.5 659v1M364.5 659v2M368.5 659v1M371.5 659v1M375.5 659v1M378.5 659v1M382.5 659v1M385.5 659v1M389.5 659v1M392.5 659v1M396.5 659v1M399.5 659v1M402.5 659v1M406.5 659v2M409.5 659v1M413.5 659v1M416.5 659v1M420.5 659v1M423.5 659v1M427.5 659v1M430.5 659v1M434.5 659v1M437.5 659v1M441.5 659v1M444.5 659v1M448.5 659v2M451.5 659v1M455.5 659v1M458.5 659v1M461.5 659v1M465.5 659v1M468.5 659v1M472.5 659v1M475.5 659v1M479.5 659v1M482.5 659v1M486.5 659v1M489.5 659v2M493.5 659v1M496.5 659v1M500.5 659v1M503.5 659v1M507.5 659v1M510.5 659v1M513.5 659v1M517.5 659v1M520.5 659v1M524.5 659v1M527.5 659v1M531.5 659v2M534.5 659v1M538.5 659v1M541.5 659v1M545.5 659v1M548.5 659v1M552.5 659v1M555.5 659v1M559.5 659v1M562.5 659v1M566.5 659v1M569.5 659v1M572.5 659v2M576.5 659v1M579.5 659v1M583.5 659v1M586.5 659v1M590.5 659v1M593.5 659v1M597.5 659v1M600.5 659v1M604.5 659v1M607.5 659v1M611.5 659v1M614.5 659v2M618.5 659v1M621.5 659v1M624.5 659v1M628.5 659v1M631.5 659v1M635.5 659v1M638.5 659v1M642.5 659v1M645.5 659v1M649.5 659v1M652.5 659v1M656.5 659v2M659.5 659v1M663.5 659v1M666.5 659v1M670.5 659v1M673.5 659v1M677.5 659v1M680.5 659v1M683.5 659v1M687.5 659v1M690.5 659v1M694.5 659v1M697.5 659v2M701.5 659v1M704.5 659v1M708.5 659v1M711.5 659v1M715.5 659v1M718.5 659v1M722.5 659v1M725.5 659v1M729.5 659v1M732.5 659v1M736.5 659v1M739.5 659v2M742.5 659v1M746.5 659v1M749.5 659v1M753.5 659v1M756.5 659v1M760.5 659v1M763.5 659v1M767.5 659v1M770.5 659v1M774.5 659v1M777.5 659v1M781.5 659v2M784.5 659v1M788.5 659v1M791.5 659v1M794.5 659v1M798.5 659v1M801.5 659v1M805.5 659v1M808.5 659v1M812.5 659v1M815.5 659v1M819.5 659v1M822.5 659v2M826.5 659v1M829.5 659v1M833.5 659v1M836.5 659v1M840.5 659v1M843.5 659v1M847.5 659v1M850.5 659v1M853.5 659v1" stroke="#0A1440" stroke-width="1"/>
<path d="M857 479.5h1M857 467.5h2M857 456.5h1M857 445.5h1M857 435.5h1M857 424.5h1M857 414.5h2M857 405.5h1M857 395.5h1M857 386.5h1M857 377.5h1M857 368.5h2M857 360.5h1M857 352.5h1M857 344.5h1M857 336.5h1M857 328.5h2M857 321.5h1M857 313.5h1M857 306.5h1M857 299.5h1M857 292.5h2M857 285.5h1M857 279.5h1M857 272.5h1M857 266.5h1M857 259.5h2M857 253.5h1M857 247.5h1M857 241.5h1M857 235.5h1M857 229.5h2M857 224.5h1M857 218.5h1M857 213.5h1M857 208.5h1M857 202.5h2M857 197.5h1M857 192.5h1M857 187.5h1M857 182.5h1M857 177.5h2M857 172.5h1M857 167.5h1M857 162.5h1M857 158.5h1M857 153.5h2M857 149.5h1M857 144.5h1M857 140.5h1M857 135.5h1M857 131.5h2M857 127.5h1M857 123.5h1M857 118.5h1M857 114.5h1M857 110.5h2M857 106.5h1M857 102.5h1M857 98.5h1M857 94.5h1M857 90.5h2M857 87.5h1M857 83.5h1M857 79.5h1M857 76.5h1M857 72.5h2M857 69.5h1M857 65.5h1M857 61.5h1M857 58.5h1M857 54.5h2M857 51.5h1M857 48.5h1M857 44.5h1M857 41.5h1M857 38.5h2M857 35.5h1M857 31.5h1M857 652.5h2M857 636.5h2M857 620.5h2M857 604.5h2M857 587.5h2M857 571.5h2M857 555.5h2M857 539.5h2M857 522.5h2M857 506.5h2" stroke="#0A1440" stroke-width="1"/>
<g font-family="Liberation Sans" ><text x="31" y="496" font-size="10" fill="#000" textLength="22.5" lengthAdjust="spacing" text-anchor="middle">1996</text><text x="31" y="670.6" font-size="10" fill="#000" textLength="22.5" lengthAdjust="spacing" text-anchor="middle">1996</text><text x="73" y="496" font-size="10" fill="#000" textLength="22.5" lengthAdjust="spacing" text-anchor="middle">1997</text><text x="73" y="670.6" font-size="10" fill="#000" textLength="22.5" lengthAdjust="spacing" text-anchor="middle">1997</text><text x="115" y="496" font-size="10" fill="#000" textLength="22.5" lengthAdjust="spacing" text-anchor="middle">1998</text><text x="115" y="670.6" font-size="10" fill="#000" textLength="22.5" lengthAdjust="spacing" text-anchor="middle">1998</text><text x="156" y="496" font-size="10" fill="#000" textLength="22.5" lengthAdjust="spacing" text-anchor="middle">1999</text><text x="156" y="670.6" font-size="10" fill="#000" textLength="22.5" lengthAdjust="spacing" text-anchor="middle">1999</text><text x="198" y="496" font-size="10" fill="#000" textLength="22.5" lengthAdjust="spacing" text-anchor="middle">2000</text><text x="198" y="670.6" font-size="10" fill="#000" textLength="22.5" lengthAdjust="spacing" text-anchor="middle">2000</text><text x="239" y="496" font-size="10" fill="#000" textLength="22.5" lengthAdjust="spacing" text-anchor="middle">2001</text><text x="239" y="670.6" font-size="10" fill="#000" textLength="22.5" lengthAdjust="spacing" text-anchor="middle">2001</text><text x="281" y="496" font-size="10" fill="#000" textLength="22.5" lengthAdjust="spacing" text-anchor="middle">2002</text><text x="281" y="670.6" font-size="10" fill="#000" textLength="22.5" lengthAdjust="spacing" text-anchor="middle">2002</text><text x="323" y="496" font-size="10" fill="#000" textLength="22.5" lengthAdjust="spacing" text-anchor="middle">2003</text><text x="323" y="670.6" font-size="10" fill="#000" textLength="22.5" lengthAdjust="spacing" text-anchor="middle">2003</text><text x="364" y="496" font-size="10" fill="#000" textLength="22.5" lengthAdjust="spacing" text-anchor="middle">2004</text><text x="364" y="670.6" font-size="10" fill="#000" textLength="22.5" lengthAdjust="spacing" text-anchor="middle">2004</text><text x="406" y="496" font-size="10" fill="#000" textLength="22.5" lengthAdjust="spacing" text-anchor="middle">2005</text><text x="406" y="670.6" font-size="10" fill="#000" textLength="22.5" lengthAdjust="spacing" text-anchor="middle">2005</text><text x="448" y="496" font-size="10" fill="#000" textLength="22.5" lengthAdjust="spacing" text-anchor="middle">2006</text><text x="448" y="670.6" font-size="10" fill="#000" textLength="22.5" lengthAdjust="spacing" text-anchor="middle">2006</text><text x="489" y="496" font-size="10" fill="#000" textLength="22.5" lengthAdjust="spacing" text-anchor="middle">2007</text><text x="489" y="670.6" font-size="10" fill="#000" textLength="22.5" lengthAdjust="spacing" text-anchor="middle">2007</text><text x="531" y="496" font-size="10" fill="#000" textLength="22.5" lengthAdjust="spacing" text-anchor="middle">2008</text><text x="531" y="670.6" font-size="10" fill="#000" textLength="22.5" lengthAdjust="spacing" text-anchor="middle">2008</text><text x="572" y="496" font-size="10" fill="#000" textLength="22.5" lengthAdjust="spacing" text-anchor="middle">2009</text><text x="572" y="670.6" font-size="10" fill="#000" textLength="22.5" lengthAdjust="spacing" text-anchor="middle">2009</text><text x="614" y="496" font-size="10" fill="#000" textLength="22.5" lengthAdjust="spacing" text-anchor="middle">2010</text><text x="614" y="670.6" font-size="10" fill="#000" textLength="22.5" lengthAdjust="spacing" text-anchor="middle">2010</text><text x="656" y="496" font-size="10" fill="#000" textLength="22.5" lengthAdjust="spacing" text-anchor="middle">2011</text><text x="656" y="670.6" font-size="10" fill="#000" textLength="22.5" lengthAdjust="spacing" text-anchor="middle">2011</text><text x="697" y="496" font-size="10" fill="#000" textLength="22.5" lengthAdjust="spacing" text-anchor="middle">2012</text><text x="697" y="670.6" font-size="10" fill="#000" textLength="22.5" lengthAdjust="spacing" text-anchor="middle">2012</text><text x="739" y="496" font-size="10" fill="#000" textLength="22.5" lengthAdjust="spacing" text-anchor="middle">2013</text><text x="739" y="670.6" font-size="10" fill="#000" textLength="22.5" lengthAdjust="spacing" text-anchor="middle">2013</text><text x="781" y="496" font-size="10" fill="#000" textLength="22.5" lengthAdjust="spacing" text-anchor="middle">2014</text><text x="781" y="670.6" font-size="10" fill="#000" textLength="22.5" lengthAdjust="spacing" text-anchor="middle">2014</text><text x="822" y="496" font-size="10" fill="#000" textLength="22.5" lengthAdjust="spacing" text-anchor="middle">2015</text><text x="822" y="670.6" font-size="10" fill="#000" textLength="22.5" lengthAdjust="spacing" text-anchor="middle">2015</text><text x="861" y="42" font-size="10" fill="#000" textLength="22.24" lengthAdjust="spacing">2100</text><text x="861" y="58" font-size="10" fill="#000" textLength="22.24" lengthAdjust="spacing">2000</text><text x="861" y="76" font-size="10" fill="#000" textLength="22.24" lengthAdjust="spacing">1900</text><text x="861" y="94" font-size="10" fill="#000" textLength="22.24" lengthAdjust="spacing">1800</text><text x="861" y="114" font-size="10" fill="#000" textLength="22.24" lengthAdjust="spacing">1700</text><text x="861" y="135" font-size="10" fill="#000" textLength="22.24" lengthAdjust="spacing">1600</text><text x="861" y="157" font-size="10" fill="#000" textLength="22.24" lengthAdjust="spacing">1500</text><text x="861" y="181" font-size="10" fill="#000" textLength="22.24" lengthAdjust="spacing">1400</text><text x="861" y="206" font-size="10" fill="#000" textLength="22.24" lengthAdjust="spacing">1300</text><text x="861" y="233" font-size="10" fill="#000" textLength="22.24" lengthAdjust="spacing">1200</text><text x="861" y="263" font-size="10" fill="#000" textLength="22.24" lengthAdjust="spacing">1100</text><text x="861" y="296" font-size="10" fill="#000" textLength="22.24" lengthAdjust="spacing">1000</text><text x="861" y="332" font-size="10" fill="#000" textLength="16.68" lengthAdjust="spacing">900</text><text x="861" y="372" font-size="10" fill="#000" textLength="16.68" lengthAdjust="spacing">800</text><text x="861" y="418" font-size="10" fill="#000" textLength="16.68" lengthAdjust="spacing">700</text><text x="861" y="471" font-size="10" fill="#000" textLength="16.68" lengthAdjust="spacing">600</text><text x="861" y="656" font-size="10" fill="#000" textLength="20.009999999999998" lengthAdjust="spacing">-400</text><text x="861" y="640" font-size="10" fill="#000" textLength="20.009999999999998" lengthAdjust="spacing">-300</text><text x="861" y="624" font-size="10" fill="#000" textLength="20.009999999999998" lengthAdjust="spacing">-200</text><text x="861" y="608" font-size="10" fill="#000" textLength="20.009999999999998" lengthAdjust="spacing">-100</text><text x="861" y="591" font-size="10" fill="#000" textLength="5.56" lengthAdjust="spacing">0</text><text x="861" y="575" font-size="10" fill="#000" textLength="16.68" lengthAdjust="spacing">100</text><text x="861" y="559" font-size="10" fill="#000" textLength="16.68" lengthAdjust="spacing">200</text><text x="861" y="543" font-size="10" fill="#000" textLength="16.68" lengthAdjust="spacing">300</text><text x="861" y="526" font-size="10" fill="#000" textLength="16.68" lengthAdjust="spacing">400</text><text x="861" y="510" font-size="10" fill="#000" textLength="16.68" lengthAdjust="spacing">500</text></g>
<polygon points="854.5,46.5 858.5,41.5 899.5,41.5 899.5,51.5 858.5,51.5" fill="#fff" stroke="#D0103A" stroke-width="1"/>
<g font-family="Liberation Sans"><text x="859" y="49.5" font-size="10" fill="#000" textLength="38" lengthAdjust="spacing">2051.47</text></g>
<polygon points="854.5,59 858.5,53.5 899.5,53.5 899.5,64.5 858.5,64.5" fill="#fff" stroke="#000" stroke-width="1"/>
<g font-family="Liberation Sans" stroke="#000" stroke-width="0.45"><text x="859" y="62.5" font-size="10.5" font-weight="bold" fill="#000" textLength="38.5" lengthAdjust="spacing">1973.78</text></g>
<polygon points="854.5,548.5 858.5,543.5 893.5,543.5 893.5,553.5 858.5,553.5" fill="#fff" stroke="#FF2A2A" stroke-width="1"/>
<g font-family="Liberation Sans"><text x="859" y="551.5" font-size="10" fill="#000" textLength="32" lengthAdjust="spacing">244.71</text></g>
<polygon points="854.5,559.5 858.5,554.5 893.5,554.5 893.5,564.5 858.5,564.5" fill="#fff" stroke="#1B3C80" stroke-width="1"/>
<g font-family="Liberation Sans"><text x="859" y="562.5" font-size="10" fill="#000" textLength="32" lengthAdjust="spacing">175.49</text></g>
<rect x="899" y="0" width="1" height="675" fill="#000"/>
<rect x="17" y="30" width="150" height="12" fill="#fff"/>
<rect x="17" y="42" width="82" height="11" fill="#fff"/>
<rect x="17" y="500" width="125" height="12" fill="#fff"/>
<rect x="19" y="35" width="8" height="2" fill="#000"/>
<rect x="19" y="46" width="8" height="2" fill="#D0103A"/>
<rect x="19" y="505" width="9" height="2" fill="#1B3C80"/>
<g font-family="Liberation Sans"><text x="31.5" y="40" font-size="9.8" fill="#000" textLength="134" lengthAdjust="spacingAndGlyphs">$SPX (Monthly) 1973.78</text><text x="29.5" y="51" font-size="10" fill="#D0103A" textLength="68.5" lengthAdjust="spacing">MA(12) 2051.47</text><text x="31" y="510" font-size="9.8" fill="#000" textLength="21.5" lengthAdjust="spacingAndGlyphs">KST</text><text x="56" y="510" font-size="9.8" fill="#1B3C80" textLength="38.5" lengthAdjust="spacingAndGlyphs">175.49</text><text x="95" y="510" font-size="9.8" fill="#FF2A2A" textLength="46.5" lengthAdjust="spacingAndGlyphs">, 244.71</text></g>
<g font-family="Liberation Sans"><text stroke="#000" stroke-width="0.35" x="16.5" y="15" font-size="13" font-weight="bold" fill="#000" textLength="32.8" lengthAdjust="spacing">$SPX</text><text x="53" y="13.6" font-size="10.3" fill="#000" textLength="123.5" lengthAdjust="spacing">S&amp;P 500 Large Cap Index</text><text x="182" y="13.6" font-size="9.6" fill="#000" textLength="23" lengthAdjust="spacing">INDX</text><text x="16.5" y="26.5" font-size="9.5" fill="#000" textLength="104.5" lengthAdjust="spacing">18-Sep-2015 10:30am</text><text stroke="#000" stroke-width="0.3" x="375.3" y="26.7" font-size="10.5" font-weight="bold" fill="#000" textLength="29.4" lengthAdjust="spacing">Open</text><text x="408.2" y="26.7" font-size="10.4" fill="#000" textLength="38.1" lengthAdjust="spacing">1970.09</text><text stroke="#000" stroke-width="0.3" x="452.0" y="26.7" font-size="10.5" font-weight="bold" fill="#000" textLength="24.3" lengthAdjust="spacing">High</text><text x="479.5" y="26.7" font-size="10.4" fill="#000" textLength="39.3" lengthAdjust="spacing">2020.86</text><text stroke="#000" stroke-width="0.3" x="524.2" y="26.7" font-size="10.5" font-weight="bold" fill="#000" textLength="23.8" lengthAdjust="spacing">Low</text><text x="552.0" y="26.7" font-size="10.4" fill="#000" textLength="38.5" lengthAdjust="spacing">1903.07</text><text stroke="#000" stroke-width="0.3" x="596.2" y="26.7" font-size="10.5" font-weight="bold" fill="#000" textLength="24.3" lengthAdjust="spacing">Last</text><text x="624.5" y="26.7" font-size="10.4" fill="#000" textLength="38.5" lengthAdjust="spacing">1973.78</text><text stroke="#000" stroke-width="0.3" x="668.8" y="26.7" font-size="10.5" font-weight="bold" fill="#000" textLength="42.4" lengthAdjust="spacing">Volume</text><text x="713.9" y="26.7" font-size="10.4" fill="#000" textLength="28.8" lengthAdjust="spacing">27.9B</text><text stroke="#000" stroke-width="0.3" x="748.4" y="26.7" font-size="10.5" font-weight="bold" fill="#000" textLength="22.1" lengthAdjust="spacing">Chg</text><text x="772.8" y="26.7" font-size="10.4" fill="#000" textLength="74.4" lengthAdjust="spacing">+1.60 (+0.08%)</text><text x="766.5" y="14" font-size="10.3" fill="#34344A" textLength="90" lengthAdjust="spacing">© StockCharts.com</text></g>
<polygon points="849,26 853,21.5 857,26" fill="#2E7D32"/>
<path d="M59.70 439.70L226.00 161.80" stroke="#FF0000" stroke-width="2.1" fill="none"/>
<path d="M326.50 352.00L545.50 132.50" stroke="#FF0000" stroke-width="2.1" fill="none"/>
<path d="M576.60 395.80L847.30 25.40" stroke="#FF0000" stroke-width="2.1" fill="none"/>
<path d="M577.20 391.00L694.30 174.80" stroke="#FF0000" stroke-width="2.2" stroke-dasharray="4,2.5" fill="none"/>
<path d="M142.20 491.00L219.42 189.62" stroke="#FF0000" stroke-width="2.4" stroke-dasharray="4,2.5" fill="none"/>
<polygon points="222.4,178 225.23,191.11 213.61,188.14" fill="#FF0000"/>
<path d="M531.20 544.60L527.42 175.30" stroke="#FF0000" stroke-width="2.4" stroke-dasharray="4,2.5" fill="none"/>
<polygon points="527.3,163.3 533.42,175.24 521.42,175.36" fill="#FF0000"/>
<path d="M680.00 533.80L677.21 238.20" stroke="#FF0000" stroke-width="2.4" stroke-dasharray="4,2.5" fill="none"/>
<polygon points="677.1,226.2 683.21,238.14 671.21,238.26" fill="#FF0000"/>
<path d="M818.80 527.10L842.68 68.08" stroke="#FF0000" stroke-width="2.4" stroke-dasharray="4,2.5" fill="none"/>
<polygon points="843.3,56.1 848.67,68.40 836.68,67.77" fill="#FF0000"/>
<g font-family="Liberation Sans" stroke="#1010E8" stroke-width="0.5"><text x="669.5" y="157" font-size="20.5" fill="#1010E8" textLength="13.5" lengthAdjust="spacing">A</text></g>
</svg>
</body></html>
